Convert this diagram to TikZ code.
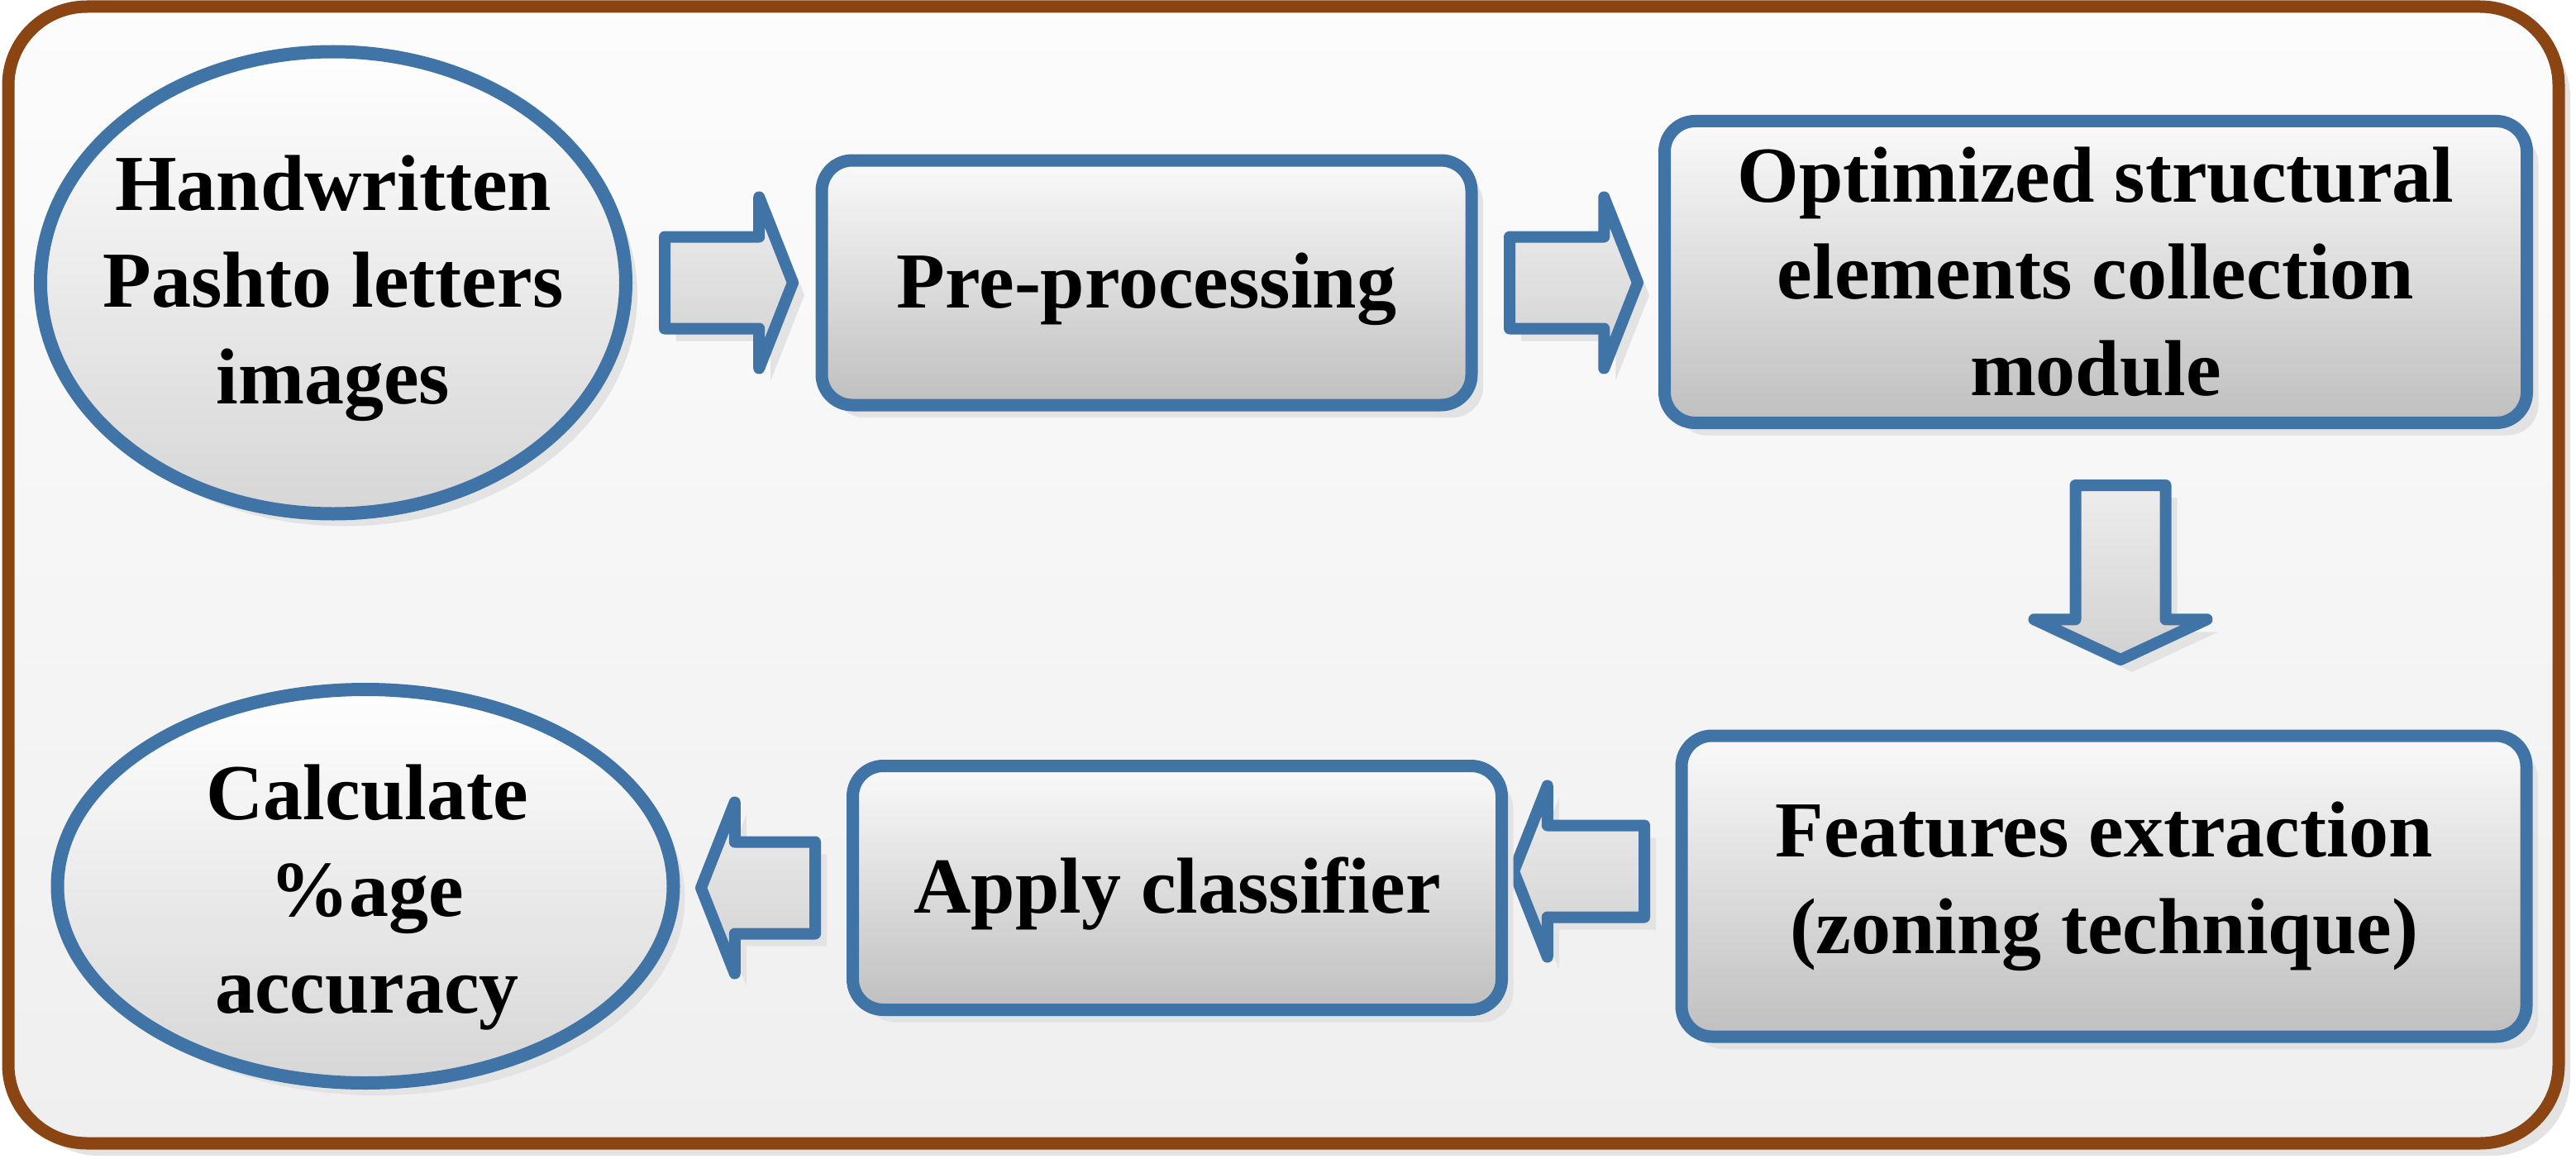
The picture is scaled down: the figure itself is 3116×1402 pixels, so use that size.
\documentclass[tikz,border=0pt]{standalone}
\usepackage{fontspec}
\setmainfont{Liberation Serif}
\usepackage{tikz}
\usetikzlibrary{shapes.geometric,shapes.arrows,shadows}
\definecolor{FlowBlue}{HTML}{4174A6}
\definecolor{FlowBrown}{HTML}{8B4513}
\definecolor{PanelTop}{HTML}{FCFCFC}
\definecolor{PanelBottom}{HTML}{EFEFEF}

\begin{document}
\begin{tikzpicture}[x=1pt, y=-1pt,
  flowtext/.style={font=\fontsize{96}{117}\selectfont\bfseries, align=center, inner sep=0pt},
  softshadow/.style={drop shadow={shadow xshift=14pt, shadow yshift=-15pt, fill=black!11, opacity=1}},
  procbox/.style={rectangle, draw=FlowBlue, line width=15pt, rounded corners=37pt,
    top color=white!98!black, bottom color=black!25, softshadow, flowtext},
  termell/.style={ellipse, draw=FlowBlue, line width=16pt, top color=white,
    bottom color=black!16, softshadow, inner sep=0pt},
  blockarrow/.style={single arrow, draw=FlowBlue, line width=14pt, line join=round,
    top color=black!7, bottom color=black!18, softshadow, inner sep=0pt, inner ysep=48.5pt,
    single arrow head extend=48pt, single arrow tip angle=137, anchor=tail}
]
\useasboundingbox (0,0) rectangle (3116,1402);

% Outer frame
\draw[FlowBrown, line width=15pt, rounded corners=95pt, top color=PanelTop,
  bottom color=PanelBottom, softshadow] (10,8) rectangle (3095,1383);

% Block arrows between the steps
\foreach \nm/\x/\y/\len/\rot in {
  ar1/797/342/155/0,
  ar2/1819/342/155/0,
  ar4/1996/1054/158/180,
  ar5/993/1074/138/180}
{
  \node[blockarrow, minimum height=\len pt, rotate=\rot] (\nm) at (\x,\y) {};
}
\node[blockarrow, minimum height=211pt, rotate=-90, inner ysep=47.5pt,
  single arrow head extend=50pt, single arrow tip angle=130] (ar3) at (2565,580) {};

% Start and end
\node[termell, minimum width=708pt, minimum height=559pt] (src) at (403,342) {};
\node[flowtext] (srctext) at (403,349) {Handwritten\\Pashto letters\\images};
\node[termell, minimum width=745pt, minimum height=476pt] (calc) at (442,1072) {};
\node[flowtext] (calctext) at (444,1086) {Calculate\\\%age\\accuracy};

% Process steps
\node[procbox, minimum width=786pt, minimum height=296pt, text height=70pt, text depth=10pt]
  (pre) at (1387,342) {Pre-processing};
\node[procbox, minimum width=1043pt, minimum height=365pt]
  (opt) at (2535,329) {Optimized structural\\elements collection\\module};
\node[procbox, minimum width=1022pt, minimum height=364pt]
  (feat) at (2545,1072) {Features extraction\\(zoning technique)};
\node[procbox, minimum width=785pt, minimum height=295pt, text height=70pt, text depth=10pt]
  (apply) at (1424,1074) {Apply classifier};
\end{tikzpicture}
\end{document}
